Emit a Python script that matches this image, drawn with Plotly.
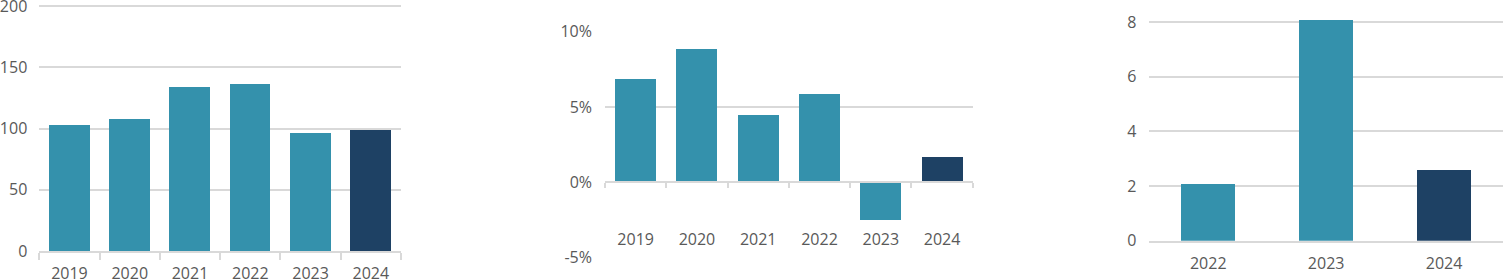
import plotly.graph_objects as go

# ---- data ----
years1 = ["2019", "2020", "2021", "2022", "2023", "2024"]
values1 = [103, 108, 134, 136.5, 96.3, 99]

years2 = ["2019", "2020", "2021", "2022", "2023", "2024"]
values2 = [6.9, 8.9, 4.5, 5.9, -2.5, 1.7]

years3 = ["2022", "2023", "2024"]
values3 = [2.1, 8.07, 2.6]

y1_ticks = [0, 50, 100, 150, 200]
y2_ticks = [-5, 0, 5, 10]
y2_text = ["-5%", "0%", "5%", "10%"]
y3_ticks = [0, 2, 4, 6, 8]

TEAL = "#3491AC"
NAVY = "#1E4164"
GRID = "#D9D9D9"
TXT = "#595959"
FONT = "Open Sans"
W, H = 1503, 279


def colors(n):
    return [TEAL] * (n - 1) + [NAVY]


def px_x(a, b):
    return [a / W, b / W]


def px_y(top, bottom):
    return [(H - bottom) / H, (H - top) / H]


fig = go.Figure()

fig.add_trace(go.Bar(x=list(range(len(years1))), y=values1, marker_color=colors(len(years1)),
                     width=0.68, xaxis="x", yaxis="y", showlegend=False, marker_line_width=0))
fig.add_trace(go.Bar(x=list(range(len(years2))), y=values2, marker_color=colors(len(years2)),
                     width=0.67, xaxis="x2", yaxis="y2", showlegend=False, marker_line_width=0))
fig.add_trace(go.Bar(x=list(range(len(years3))), y=values3, marker_color=colors(len(years3)),
                     width=0.46, xaxis="x3", yaxis="y3", showlegend=False, marker_line_width=0))

tickfont = dict(family=FONT, size=16, color=TXT)
common = dict(tickfont=tickfont, fixedrange=True, automargin=False, ticklabeloverflow="allow")

# chart 1 : 0 at y=251px, 200 at y=6px
y1_range = [0, 204]
ppu1 = (251 - 6) / 200
fig.update_layout(
    xaxis=dict(domain=px_x(39.3, 401), anchor="y", range=[-0.5, len(years1) - 0.5],
               tickvals=list(range(len(years1))), ticktext=years1, ticks="",
               showline=True, linecolor=GRID, linewidth=2, showgrid=False, zeroline=False,
               minor=dict(tickvals=[i - 0.5 for i in range(len(years1) + 1)], ticks="outside",
                          ticklen=7, tickwidth=2, tickcolor=GRID, showgrid=False),
               ticklabelstandoff=7, **common),
    yaxis=dict(domain=px_y(251 - y1_range[1] * ppu1, 251), anchor="x", range=y1_range,
               tickvals=y1_ticks,
               showgrid=True, gridcolor=GRID, gridwidth=2, zeroline=False, showline=False,
               ticklabelstandoff=11, **common),
)

# chart 2
y2_range = [-5, 10]
d2 = px_y(31.7, 257.7)
zero_pos = d2[0] + (0 - y2_range[0]) / (y2_range[1] - y2_range[0]) * (d2[1] - d2[0])
fig.update_layout(
    xaxis2=dict(domain=px_x(605, 972.7), anchor="free", position=zero_pos,
                range=[-0.5, len(years2) - 0.5],
                tickvals=list(range(len(years2))), ticktext=years2, ticks="",
                showline=True, linecolor=GRID, linewidth=2, showgrid=False, zeroline=False,
                minor=dict(tickvals=[i - 0.5 for i in range(len(years2) + 1)], ticks="outside",
                           ticklen=5, tickwidth=2, tickcolor=GRID, showgrid=False),
                ticklabelstandoff=42, **common),
    yaxis2=dict(domain=d2, anchor="x2", range=y2_range, tickvals=y2_ticks, ticktext=y2_text,
                showgrid=True, gridcolor=GRID, gridwidth=2, zeroline=False, showline=False,
                ticklabelstandoff=12, **common),
)

# chart 3
fig.update_layout(
    xaxis3=dict(domain=px_x(1149.3, 1503), anchor="y3", range=[-0.5, len(years3) - 0.5],
                tickvals=list(range(len(years3))), ticktext=years3, ticks="",
                showline=True, linecolor=GRID, linewidth=2, showgrid=False, zeroline=False,
                ticklabelstandoff=7, **common),
    yaxis3=dict(domain=px_y(5.6, 240.7), anchor="x3", range=[0, 8.6], tickvals=y3_ticks,
                showgrid=True, gridcolor=GRID, gridwidth=2, zeroline=False, showline=False,
                ticklabelstandoff=12, **common),
)

fig.update_layout(
    width=W, height=H, margin=dict(l=0, r=0, t=0, b=0),
    paper_bgcolor="white", plot_bgcolor="white",
    bargap=0, font=dict(family=FONT, color=TXT),
)

fig.write_html("out.html", config={"displayModeBar": False})
